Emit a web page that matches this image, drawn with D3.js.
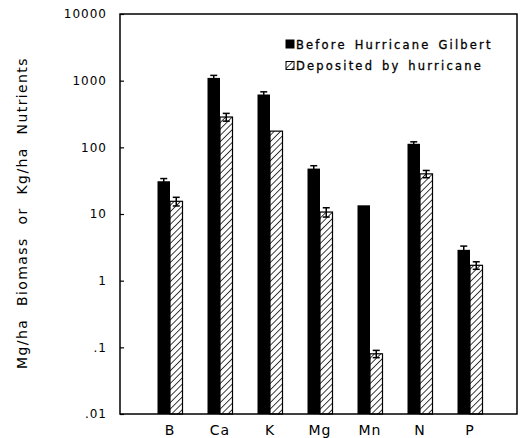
<!DOCTYPE html>
<html>
<head>
  <meta charset="utf-8">
  <script src="https://d3js.org/d3.v7.min.js"></script>
  <style>
    body { margin: 0; background: #fff; }
    text {
      font-family: 'DejaVu Sans', sans-serif;
      fill: #000;
    }
    .tick-label { font-size: 12px; letter-spacing: 1px; }
    .cat-label { font-size: 14px; letter-spacing: 1px; }
    .legend-text { font-size: 11.5px; letter-spacing: 2.2px; word-spacing: 2px; stroke: #000; stroke-width: 0.3px; }
    .ytitle { font-size: 14px; letter-spacing: 1.4px; word-spacing: 7px; }
  </style>
</head>
<body>
<div id="chart"></div>
<script>
  // categories (nutrients)
  var categories = ["B", "Ca", "K", "Mg", "Mn", "N", "P"];
  // standing stock before the storm
  var beforeValues = [31, 1100, 620, 48, 13.5, 113, 2.9];
  var beforeErrors = [3, 100, 60, 5, 0, 8, 0.4];
  // amount deposited by the hurricane
  var depositValues = [15.5, 285, 175, 10.7, 0.08, 40, 1.7];
  var depositErrors = [2.3, 38, 0, 1.7, 0.01, 5, 0.22];
  var yTicks = [0.01, 0.1, 1, 10, 100, 1000, 10000];
  var yTickLabels = [".01", ".1", "1", "10", "100", "1000", "10000"];
  var seriesNames = ["Before Hurricane Gilbert", "Deposited by hurricane"];

  var width = 524, height = 438;
  var margin = {top: 14, right: 7, bottom: 24, left: 120};
  var plotW = width - margin.left - margin.right,
      plotH = height - margin.top - margin.bottom;

  var svg = d3.select("#chart").append("svg")
      .attr("width", width)
      .attr("height", height);

  // diagonal hatch for deposited bars
  var defs = svg.append("defs");
  defs.append("pattern")
      .attr("id", "hatch")
      .attr("patternUnits", "userSpaceOnUse")
      .attr("width", 4.5)
      .attr("height", 4.5)
      .attr("patternTransform", "rotate(45)")
    .append("line")
      .attr("x1", 0).attr("y1", 0)
      .attr("x2", 0).attr("y2", 4.5)
      .attr("stroke", "#000")
      .attr("stroke-width", 1.5);

  var g = svg.append("g")
      .attr("transform", "translate(" + margin.left + "," + margin.top + ")");

  var y = d3.scaleLog()
      .domain([0.01, 10000])
      .range([plotH, 0]);

  // one 50px slot per nutrient, first one starting a slot in from the axis
  var x = d3.scaleBand()
      .domain(categories)
      .range([25, 25 + 50 * categories.length])
      .padding(0);
  var barW = 12.5;

  var data = categories.map(function(c, i) {
    return {
      cat: c,
      before: beforeValues[i], beforeErr: beforeErrors[i],
      deposit: depositValues[i], depositErr: depositErrors[i]
    };
  });

  // bars
  var groups = g.selectAll(".grp")
      .data(data)
      .enter().append("g")
      .attr("class", "grp")
      .attr("transform", function(d) {
        return "translate(" + (x(d.cat) + x.bandwidth() / 2) + ",0)";
      });

  groups.append("rect")
      .attr("x", -barW)
      .attr("width", barW)
      .attr("y", function(d) { return y(d.before); })
      .attr("height", function(d) { return plotH - y(d.before); })
      .attr("fill", "#000");

  groups.append("rect")
      .attr("x", 0)
      .attr("width", barW)
      .attr("y", function(d) { return y(d.deposit); })
      .attr("height", function(d) { return plotH - y(d.deposit); })
      .attr("fill", "url(#hatch)")
      .attr("stroke", "#000")
      .attr("stroke-width", 1.2);

  // error bars
  function errBar(sel, cx, val, err) {
    sel.each(function(d) {
      var e = err(d);
      if (!e) return;
      var v = val(d);
      var top = y(v + e), bot = y(Math.max(v - e, 1e-6));
      var c = cx;
      var eg = d3.select(this).append("g");
      eg.append("line")
          .attr("x1", c).attr("x2", c)
          .attr("y1", top).attr("y2", bot)
          .attr("stroke", "#000").attr("stroke-width", 1.5);
      [top, bot].forEach(function(yy) {
        eg.append("line")
            .attr("x1", c - 3.5).attr("x2", c + 3.5)
            .attr("y1", yy).attr("y2", yy)
            .attr("stroke", "#000").attr("stroke-width", 1.5);
      });
    });
  }
  errBar(groups, -barW / 2, function(d) { return d.before; }, function(d) { return d.beforeErr; });
  errBar(groups, barW / 2, function(d) { return d.deposit; }, function(d) { return d.depositErr; });

  // frame
  g.append("rect")
      .attr("width", plotW)
      .attr("height", plotH)
      .attr("fill", "none")
      .attr("stroke", "#000")
      .attr("stroke-width", 1.5);

  // y axis
  var yAxis = g.append("g")
      .call(d3.axisLeft(y)
        .tickValues(yTicks)
        .tickFormat(function(d, i) { return yTickLabels[i]; })
        .tickSize(-4)
        .tickPadding(13));
  yAxis.select(".domain").remove();
  yAxis.selectAll("line").attr("stroke-width", 1.2);
  yAxis.selectAll("text")
      .attr("class", "tick-label")
      .attr("font-family", null)
      .attr("font-size", null);

  // category labels
  g.selectAll(".cat-label")
      .data(categories)
      .enter().append("text")
      .attr("class", "cat-label")
      .attr("x", function(d) { return x(d) + x.bandwidth() / 2; })
      .attr("y", plotH + 21)
      .attr("text-anchor", "middle")
      .text(function(d) { return d; });

  // y title
  svg.append("text")
      .attr("class", "ytitle")
      .attr("transform", "translate(27," + (margin.top + plotH / 2 - 1) + ") rotate(-90)")
      .attr("text-anchor", "middle")
      .text("Mg/ha Biomass or Kg/ha Nutrients");

  // legend
  var legend = svg.append("g").attr("transform", "translate(286,40)");
  var items = legend.selectAll("g")
      .data(seriesNames)
      .enter().append("g")
      .attr("transform", function(d, i) { return "translate(0," + (i * 21.5) + ")"; });
  items.append("rect")
      .attr("width", 8).attr("height", 8)
      .attr("fill", function(d, i) { return i === 0 ? "#000" : "url(#hatch)"; })
      .attr("stroke", "#000")
      .attr("stroke-width", 1);
  items.append("text")
      .attr("class", "legend-text")
      .attr("x", 10)
      .attr("y", 8.5)
      .text(function(d) { return d; });
</script>
</body>
</html>
